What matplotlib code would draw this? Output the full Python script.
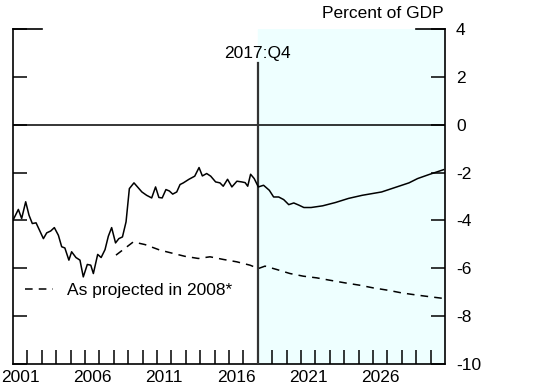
import matplotlib
matplotlib.use("Agg")
import matplotlib.pyplot as plt

plt.rcParams['font.family'] = ['Liberation Sans', 'DejaVu Sans']
plt.rcParams['axes.unicode_minus'] = False

# actual / projected deficit, percent of GDP (decimal years)
actual_x = [2001.0, 2001.37, 2001.6, 2001.88, 2002.11, 2002.34, 2002.6, 2003.11, 2003.34,
            2003.62, 2003.87, 2004.15, 2004.38, 2004.6, 2004.88, 2005.07, 2005.37, 2005.65,
            2005.88, 2006.16, 2006.4, 2006.58, 2006.88, 2007.12, 2007.39, 2007.62, 2007.85,
            2008.12, 2008.35, 2008.6, 2008.85, 2009.08, 2009.4, 2009.95, 2010.28, 2010.63,
            2010.9, 2011.13, 2011.36, 2011.62, 2011.86, 2012.09, 2012.37, 2012.6, 2012.83,
            2013.22, 2013.62, 2013.92, 2014.15, 2014.45, 2014.73, 2015.07, 2015.37, 2015.6,
            2015.9, 2016.2, 2016.55, 2016.88, 2017.12, 2017.3, 2017.5, 2017.75, 2018.04,
            2018.4, 2018.8, 2019.1, 2019.45, 2019.8, 2020.15, 2020.5, 2020.85, 2021.2,
            2021.7, 2022.5, 2023.4, 2024.3, 2025.25, 2026.6, 2027.55, 2028.5, 2029.1, 2029.9,
            2030.9]
actual_y = [-3.99, -3.54, -3.92, -3.22, -3.78, -4.13, -4.10, -4.76, -4.52,
            -4.44, -4.30, -4.62, -5.10, -5.15, -5.66, -5.31, -5.55, -5.66,
            -6.36, -5.84, -5.87, -6.22, -5.42, -5.55, -5.22, -4.66, -4.30,
            -4.94, -4.76, -4.69, -4.06, -2.67, -2.43, -2.81, -2.95, -3.06,
            -2.60, -3.04, -3.06, -2.71, -2.77, -2.90, -2.81, -2.50, -2.43,
            -2.28, -2.15, -1.79, -2.14, -2.04, -2.15, -2.39, -2.43, -2.57,
            -2.28, -2.60, -2.36, -2.39, -2.42, -2.57, -2.07, -2.25, -2.60,
            -2.53, -2.74, -3.02, -3.02, -3.13, -3.34, -3.27, -3.36, -3.46,
            -3.46, -3.39, -3.25, -3.08, -2.95, -2.81, -2.62, -2.43, -2.25, -2.08,
            -1.88]

proj_x = [2008.15, 2009.35, 2010.17, 2011.2, 2012.13, 2012.94, 2013.87, 2014.68, 2015.6,
          2016.54, 2017.46, 2018.04, 2018.5, 2019.31, 2020.24, 2021.16, 2022.09, 2023.01,
          2024.06, 2025.1, 2026.02, 2027.06, 2028.0, 2029.05, 2030.09, 2030.9]
proj_y = [-5.45, -4.90, -5.01, -5.24, -5.38, -5.50, -5.59, -5.52, -5.63,
          -5.73, -5.87, -6.01, -5.91, -6.05, -6.22, -6.33, -6.40, -6.50,
          -6.61, -6.71, -6.82, -6.92, -7.03, -7.12, -7.20, -7.26]

year_labels = [2001, 2006, 2011, 2016, 2021, 2026]
y_ticks = [-10, -8, -6, -4, -2, 0, 2, 4]
split = 2018.0

fs = 12.5
fig = plt.figure(figsize=(5.54, 3.89), dpi=100)
ax = fig.add_axes([0.0235, 0.0643, 0.7797, 0.8611])

ax.set_xlim(2001, 2031)
ax.set_ylim(-10, 4)

ax.axvspan(split, 2031, color='#eeffff', zorder=0)
ax.axhline(0, color='black', lw=1.1, zorder=2)
ax.plot([split, split], [-10, 2.6], color='#333333', lw=1.6, zorder=3)
ax.text(split, 2.68, '2017:Q4', ha='center', va='bottom', fontsize=fs)

ax.plot(actual_x, actual_y, color='black', lw=1.1, zorder=4)
ax.plot(proj_x, proj_y, color='black', lw=1.1, ls=(0, (5, 4)), zorder=4,
        label='As projected in 2008*')

leg = ax.legend(loc='lower left', bbox_to_anchor=(0.0, 0.16), frameon=False,
                handlelength=1.6, handletextpad=0.8, fontsize=fs, borderaxespad=0.3)

ax.spines['top'].set_visible(False)
for s in ['left', 'right', 'bottom']:
    ax.spines[s].set_linewidth(1.2)

ax.set_yticks(y_ticks)
ax.yaxis.tick_right()
ax.tick_params(axis='y', which='major', direction='in', length=10, width=1.1,
               left=True, right=True, labelleft=False, labelright=True,
               labelsize=fs, pad=8)
# longer tick marks at the top value on both sides
ax.plot([0, 0.066], [1, 1], transform=ax.transAxes, color='black', lw=1.2, clip_on=False)
ax.plot([0.934, 1], [1, 1], transform=ax.transAxes, color='black', lw=1.2, clip_on=False)

ax.set_xticks(range(2002, 2031))
ax.set_xticklabels([])
ax.tick_params(axis='x', which='major', direction='in', length=10, width=1.1)
ax.set_xticks([y + 0.5 for y in year_labels], minor=True)
ax.set_xticklabels([str(y) for y in year_labels], minor=True)
ax.tick_params(axis='x', which='minor', length=0, labelsize=fs, pad=4)

fig.text(0.80, 0.985, 'Percent of GDP', ha='right', va='top', fontsize=fs)

fig.savefig('out.png', dpi=100)
